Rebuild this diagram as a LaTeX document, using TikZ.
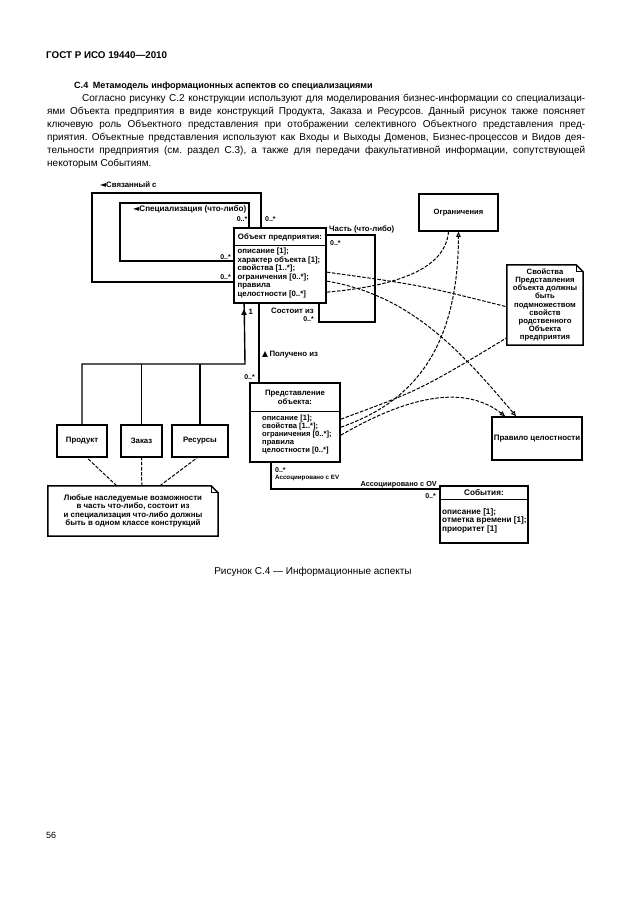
\documentclass[tikz,border=0pt]{standalone}
\usepackage{fontspec}
\setmainfont{Liberation Sans}
\newfontfamily\symf{DejaVu Sans}
\usetikzlibrary{arrows.meta}

\newcommand\dgmfont{\fontsize{7.8}{8.5}\selectfont\bfseries}
\newcommand\lblfont{\fontsize{7.8}{9}\selectfont\bfseries}
\newcommand\multfont{\fontsize{7}{8}\selectfont\bfseries}
\newcommand\bodyfont{\fontsize{10}{13}\selectfont}

\tikzset{
  entity/.style={draw, line width=1.7pt, inner sep=0pt, align=center, font=\dgmfont},
  caption/.style={inner sep=0pt, align=center, font=\dgmfont},
  attrs/.style={anchor=north west, inner sep=0pt, align=left, font=\dgmfont},
  mult/.style={inner sep=0pt, font=\multfont},
  lbl/.style={inner sep=0pt, font=\lblfont},
  link/.style={line width=1.4pt},
  sep/.style={line width=1.1pt},
  notepath/.style={line width=1.5pt},
  dep/.style={line width=1pt, dash pattern=on 3.5pt off 1.6pt},
  deparrow/.style={dep, -{Triangle[open, length=5pt, width=4.5pt]}},
  bodyline/.style={anchor=west, inner sep=0pt, font=\bodyfont},
}

\begin{document}
\frenchspacing
\begin{tikzpicture}[x=1pt, y=-1pt]
  \useasboundingbox[fill=white] (0,0) rectangle (630,913);

  % page text
  \node[anchor=west, inner sep=0pt, font=\fontsize{9.8}{12}\selectfont\bfseries] (hdr) at (46,55) {ГОСТ Р ИСО 19440—2010};
  \node[anchor=west, inner sep=0pt, font=\fontsize{9.05}{11}\selectfont\bfseries] (sec) at (74,86) {С.4\enspace Метамодель информационных аспектов со специализациями};
  \node[bodyline] (l1) at (82,99)  {\makebox[503pt][s]{Согласно рисунку С.2 конструкции используют для моделирования бизнес-информации со специализаци-}};
  \node[bodyline] (l2) at (47,112) {\makebox[538pt][s]{ями Объекта предприятия в виде конструкций Продукта, Заказа и Ресурсов. Данный рисунок также поясняет}};
  \node[bodyline] (l3) at (47,125) {\makebox[538pt][s]{ключевую роль Объектного представления при отображении селективного Объектного представления пред-}};
  \node[bodyline] (l4) at (47,138) {\makebox[538pt][s]{приятия. Объектные представления используют как Входы и Выходы Доменов, Бизнес-процессов и Видов дея-}};
  \node[bodyline] (l5) at (47,151) {\makebox[538pt][s]{тельности предприятия (см. раздел С.3), а также для передачи факультативной информации, сопутствующей}};
  \node[bodyline] (l6) at (47,164) {некоторым Событиям.};

  % classes
  \node[entity, minimum width=92pt, minimum height=75pt] (obj) at (280,265.5) {};
  \node[caption] (objt) at (280,237) {Объект предприятия:};
  \draw[sep] ([yshift=-18pt]obj.north west) -- ([yshift=-18pt]obj.north east);
  \node[attrs] (obja) at (237.5,248) {описание [1];\\характер объекта [1];\\свойства [1..*];\\ограничения [0..*];\\правила\\целостности [0..*]};

  \node[entity, minimum width=90pt, minimum height=79pt] (rep) at (295,422.5) {};
  \node[caption, font=\fontsize{7.8}{9}\selectfont\bfseries] (rept) at (295,397.5) {Представление\\объекта:};
  \draw[sep] ([yshift=-29pt]rep.north west) -- ([yshift=-29pt]rep.north east);
  \node[attrs, font=\fontsize{7.6}{8}\selectfont\bfseries] (repa) at (262,415) {описание [1];\\свойства [1..*];\\ограничения [0..*];\\правила\\целостности [0..*]};

  \node[entity, minimum width=88pt, minimum height=57pt] (evt) at (484,514.5) {};
  \node[caption, font=\fontsize{8.2}{9}\selectfont\bfseries] (evtt) at (484,493) {События:};
  \draw[sep] ([yshift=-14pt]evt.north west) -- ([yshift=-14pt]evt.north east);
  \node[attrs, font=\fontsize{8.2}{8.5}\selectfont\bfseries] (evta) at (442,508) {описание [1];\\отметка времени [1];\\приоритет [1]};

  \node[entity, minimum width=50pt, minimum height=32pt] (prod) at (82,441) {Продукт};
  \node[entity, minimum width=41pt, minimum height=32pt] (ord)  at (141.5,441) {Заказ};
  \node[entity, minimum width=56pt, minimum height=32pt] (res)  at (200,441) {Ресурсы};
  \node[entity, minimum width=79pt, minimum height=37pt, font=\fontsize{7.6}{9}\selectfont\bfseries] (lim) at (458.5,212.5) {Ограничения};
  \node[entity, minimum width=90pt, minimum height=43pt, font=\fontsize{7.9}{9}\selectfont\bfseries] (rule) at (537,438.5) {Правило целостности};

  % notes
  \node[caption, minimum width=170pt, minimum height=50pt, font=\fontsize{7.9}{8.6}\selectfont\bfseries] (note1) at (133,511) {Любые наследуемые возможности\\в часть что-либо, состоит из\\и специализация что-либо должны\\быть в одном классе конструкций};
  \draw[notepath] (note1.north west) -- ([xshift=-7pt]note1.north east) -- ([yshift=-7pt]note1.north east) -- (note1.south east) -- (note1.south west) -- cycle;
  \draw[line width=0.8pt] ([xshift=-7pt]note1.north east) |- ([yshift=-7pt]note1.north east);

  \node[caption, minimum width=76pt, minimum height=80pt, font=\fontsize{7.7}{8.1}\selectfont\bfseries] (note2) at (545,305) {Свойства\\Представления\\объекта должны\\быть\\подмножеством\\свойств\\родственного\\Объекта\\предприятия};
  \draw[notepath] (note2.north west) -- ([xshift=-7pt]note2.north east) -- ([yshift=-7pt]note2.north east) -- (note2.south east) -- (note2.south west) -- cycle;
  \draw[line width=0.8pt] ([xshift=-7pt]note2.north east) |- ([yshift=-7pt]note2.north east);

  % recursive links of the enterprise object
  \draw[link] ([yshift=-55pt]obj.north west) -| (92,193) -| ([xshift=28pt]obj.north west);
  \draw[link] ([yshift=-34pt]obj.north west) -| (120,203) -| ([xshift=16pt]obj.north west);
  \draw[link] ([yshift=-8pt]obj.north east) -| (375,322) -| ([xshift=-8pt]obj.south east);
  \node[lbl, anchor=west] (lrel) at (100,185) {{\symf ◄}Связанный с};
  \node[lbl, anchor=east, font=\fontsize{8.1}{9}\selectfont\bfseries] (lspec) at (246.5,209) {{\symf ◄}Специализация (что-либо)};
  \node[lbl, anchor=south west] (lpart) at (329,233) {Часть (что-либо)};
  \node[lbl, anchor=east] (lcons) at (314,311) {Состоит из};
  \node[mult, anchor=east] (m1) at (247.5,219) {0..*};
  \node[mult, anchor=west] (m2) at (265,219) {0..*};
  \node[mult, anchor=east] (m3) at (231,257) {0..*};
  \node[mult, anchor=east] (m4) at (231,277) {0..*};
  \node[mult, anchor=west] (m5) at (330,243) {0..*};
  \node[mult, anchor=east] (m6) at (314,319) {0..*};

  % specialisations
  \coordinate (fork) at (245,364);
  \draw[link] ([xshift=11pt]obj.south west) -- (fork) -| (prod.north);
  \draw[link] (fork -| ord.north) -- (ord.north);
  \draw[link] (fork -| res.north) -- (res.north);
  \node[lbl, anchor=west] (linh) at (241,312) {{\symf ▲}\,1};

  % derived from
  \draw[link] ([xshift=26pt]obj.south west) -- ([xshift=10pt]rep.north west);
  \node[lbl, anchor=west] (lder) at (262,355) {{\symf ▲}\,Получено из};
  \node[mult, anchor=east] (m7) at (255,377) {0..*};

  % associated with
  \draw[link] ([xshift=22pt]rep.south west) |- ([yshift=-4pt]evt.north west);
  \node[mult, anchor=west] (m8) at (275,470) {0..*};
  \node[lbl, anchor=west, font=\fontsize{6.2}{7}\selectfont\bfseries] (lev) at (275,478) {Ассоциировано с EV};
  \node[lbl, anchor=south east, font=\fontsize{7.3}{8}\selectfont\bfseries] (lov) at (437,488) {Ассоциировано с OV};
  \node[mult, anchor=east] (m9) at (436,496) {0..*};

  % note attachments
  \draw[dep] ([xshift=69pt]note1.north west) -- ([xshift=5pt]prod.south);
  \draw[dep] ([xshift=94pt]note1.north west) -- (ord.south);
  \draw[dep] ([xshift=112pt]note1.north west) -- ([xshift=-3pt]res.south);

  % dependencies
  \draw[dep] ([yshift=-65pt]obj.north east) .. controls (395,286) and (445,270) .. ([xshift=-10pt]lim.south);
  \draw[dep] ([yshift=-45pt]obj.north east) .. controls (420,285) .. ([yshift=-42pt]note2.north west);
  \draw[deparrow] ([yshift=-54pt]obj.north east) .. controls (410,295) and (460,350) .. ([xshift=-21pt]rule.north);
  \draw[dep] ([yshift=-37pt]rep.north east) .. controls (420,390) .. ([yshift=-73pt]note2.north west);
  \draw[deparrow] ([yshift=-45pt]rep.north east) .. controls (420,400) and (458,340) .. (lim.south);
  \draw[deparrow] ([yshift=-53pt]rep.north east) .. controls (410,395) and (465,385) .. ([xshift=-32pt]rule.north);

  % caption and page number
  \node[inner sep=0pt, font=\fontsize{10}{12}\selectfont] (cap) at (313,572) {Рисунок С.4 — Информационные аспекты};
  \node[anchor=west, inner sep=0pt, font=\fontsize{9}{11}\selectfont] (page) at (46,835) {56};
\end{tikzpicture}
\end{document}
